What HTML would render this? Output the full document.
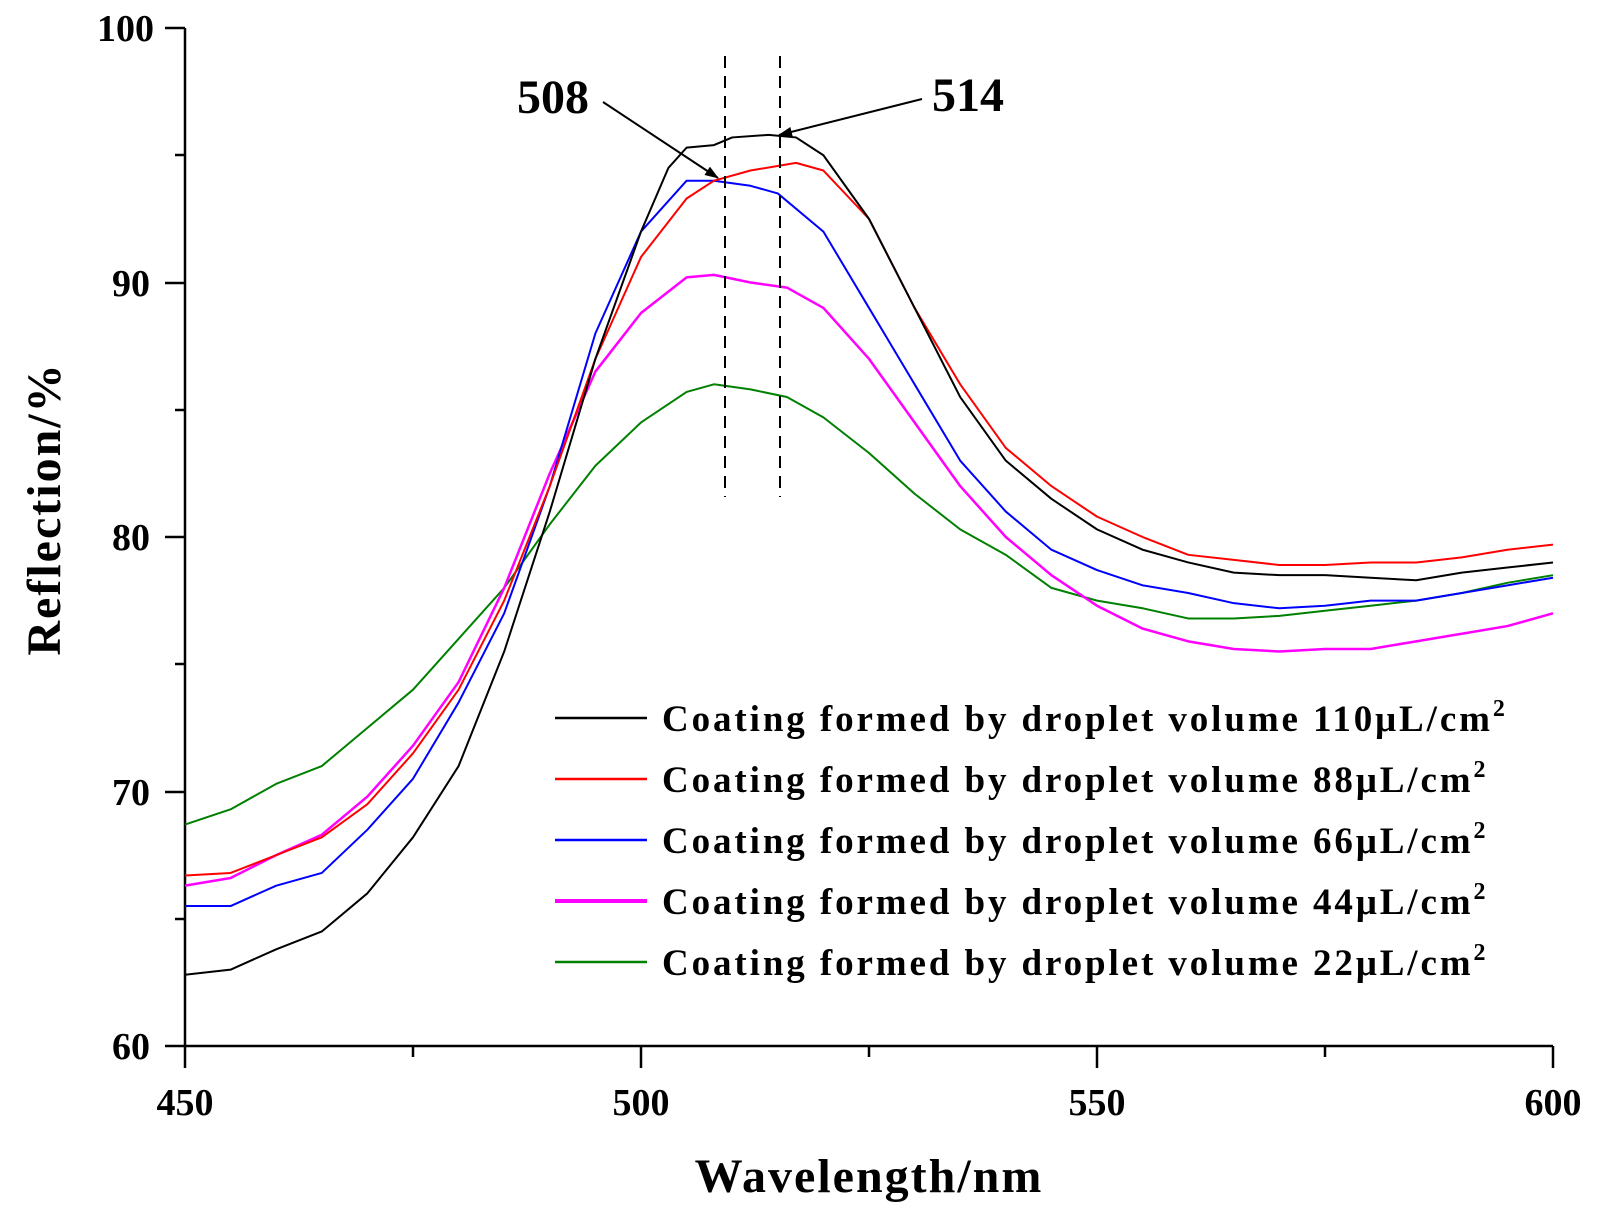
<!DOCTYPE html>
<html><head><meta charset="utf-8"><style>
html,body{margin:0;padding:0;background:#fff}
svg{display:block}
text{font-family:"Liberation Serif",serif;font-weight:bold;fill:#000}
</style></head><body>
<svg width="1597" height="1214" viewBox="0 0 1597 1214" xmlns="http://www.w3.org/2000/svg">
<defs><marker id="ah" markerWidth="14" markerHeight="10" refX="13" refY="5" orient="auto" markerUnits="userSpaceOnUse"><path d="M0,0 L14,5 L0,10 z" fill="#000"/></marker></defs>
<g stroke="#000" stroke-width="2.5" fill="none">
<line x1="185" y1="28" x2="185" y2="1047"/>
<line x1="184" y1="1046" x2="1553" y2="1046"/>
<line x1="165" y1="28" x2="185" y2="28"/>
<line x1="165" y1="283" x2="185" y2="283"/>
<line x1="165" y1="537" x2="185" y2="537"/>
<line x1="165" y1="792" x2="185" y2="792"/>
<line x1="165" y1="1046" x2="185" y2="1046"/>
<line x1="175" y1="155" x2="185" y2="155"/>
<line x1="175" y1="410" x2="185" y2="410"/>
<line x1="175" y1="664" x2="185" y2="664"/>
<line x1="175" y1="919" x2="185" y2="919"/>
<line x1="185" y1="1046" x2="185" y2="1068"/>
<line x1="641" y1="1046" x2="641" y2="1068"/>
<line x1="1097" y1="1046" x2="1097" y2="1068"/>
<line x1="1553" y1="1046" x2="1553" y2="1068"/>
<line x1="413" y1="1046" x2="413" y2="1057"/>
<line x1="869" y1="1046" x2="869" y2="1057"/>
<line x1="1325" y1="1046" x2="1325" y2="1057"/>
</g>
<g font-size="38" text-anchor="end">
<text x="154" y="41">100</text>
<text x="150" y="296">90</text>
<text x="150" y="550">80</text>
<text x="150" y="805">70</text>
<text x="150" y="1059">60</text>
</g>
<g font-size="38" text-anchor="middle">
<text x="185" y="1115">450</text>
<text x="641" y="1115">500</text>
<text x="1097" y="1115">550</text>
<text x="1553" y="1115">600</text>
</g>
<text x="869" y="1192" font-size="48" letter-spacing="2" text-anchor="middle">Wavelength/nm</text>
<text transform="translate(60,509) rotate(-90)" font-size="48" letter-spacing="2" text-anchor="middle">Reflection/%</text>

<g transform="matrix(9.12 0 0 -25.45 -3919 2573)" fill="none" stroke-width="2" stroke-linejoin="round">
<polyline vector-effect="non-scaling-stroke" stroke="#008000" points="450,68.7 455,69.3 460,70.3 465,71 470,72.5 475,74 480,76 485,78 490,80.5 495,82.8 500,84.5 505,85.7 508,86 512,85.8 516,85.5 520,84.7 525,83.3 530,81.7 535,80.3 540,79.3 545,78 550,77.5 555,77.2 560,76.8 565,76.8 570,76.9 575,77.1 580,77.3 585,77.5 590,77.8 595,78.2 600,78.5"/>
<polyline vector-effect="non-scaling-stroke" stroke="#ff00ff" stroke-width="2.5" points="450,66.3 455,66.6 460,67.5 465,68.3 470,69.8 475,71.8 480,74.3 485,78 490,82.5 495,86.5 500,88.8 505,90.2 508,90.3 512,90 516,89.8 520,89 525,87 530,84.5 535,82 540,80 545,78.5 550,77.3 555,76.4 560,75.9 565,75.6 570,75.5 575,75.6 580,75.6 585,75.9 590,76.2 595,76.5 600,77"/>
<polyline vector-effect="non-scaling-stroke" stroke="#0000ff" points="450,65.5 455,65.5 460,66.3 465,66.8 470,68.5 475,70.5 480,73.5 485,77 490,82 495,88 500,92 505,94 508,94 512,93.8 515,93.5 520,92 525,89 530,86 535,83 540,81 545,79.5 550,78.7 555,78.1 560,77.8 565,77.4 570,77.2 575,77.3 580,77.5 585,77.5 590,77.8 595,78.1 600,78.4"/>
<polyline vector-effect="non-scaling-stroke" stroke="#ff0000" points="450,66.7 455,66.8 460,67.5 465,68.2 470,69.5 475,71.5 480,74 485,77.5 490,82 495,87 500,91 505,93.3 508,94 512,94.4 517,94.7 520,94.4 525,92.5 530,89 535,86 540,83.5 545,82 550,80.8 555,80 560,79.3 565,79.1 570,78.9 575,78.9 580,79 585,79 590,79.2 595,79.5 600,79.7"/>
<polyline vector-effect="non-scaling-stroke" stroke="#000" points="450,62.8 455,63 460,63.8 465,64.5 470,66 475,68.2 480,71 485,75.5 490,81 495,87 500,92 503,94.5 505,95.3 508,95.4 510,95.7 514,95.8 517,95.7 520,95 525,92.5 530,89 535,85.5 540,83 545,81.5 550,80.3 555,79.5 560,79 565,78.6 570,78.5 575,78.5 580,78.4 585,78.3 590,78.6 595,78.8 600,79"/>
</g>

<g stroke="#000" stroke-width="2" stroke-dasharray="12,8">
<line x1="725" y1="56" x2="725" y2="497"/>
<line x1="780" y1="56" x2="780" y2="497"/>
</g>
<g stroke="#000" stroke-width="2">
<line x1="603" y1="102" x2="718" y2="178" marker-end="url(#ah)"/>
<line x1="922" y1="99" x2="779" y2="135" marker-end="url(#ah)"/>
</g>
<text x="553" y="113" font-size="48" text-anchor="middle">508</text>
<text x="968" y="111" font-size="48" text-anchor="middle">514</text>

<g stroke-width="2.5">
<line x1="555" y1="718" x2="647" y2="718" stroke="#000"/>
<line x1="555" y1="779" x2="647" y2="779" stroke="#ff0000"/>
<line x1="555" y1="840" x2="647" y2="840" stroke="#0000ff"/>
<line x1="555" y1="901" x2="647" y2="901" stroke="#ff00ff" stroke-width="4"/>
<line x1="555" y1="962" x2="647" y2="962" stroke="#008000"/>
</g>
<g font-size="37" letter-spacing="2.9">
<text x="662" y="731">Coating formed by droplet volume 110μL/cm<tspan dy="-15" font-size="24">2</tspan></text>
<text x="662" y="792">Coating formed by droplet volume 88μL/cm<tspan dy="-15" font-size="24">2</tspan></text>
<text x="662" y="853">Coating formed by droplet volume 66μL/cm<tspan dy="-15" font-size="24">2</tspan></text>
<text x="662" y="914">Coating formed by droplet volume 44μL/cm<tspan dy="-15" font-size="24">2</tspan></text>
<text x="662" y="975">Coating formed by droplet volume 22μL/cm<tspan dy="-15" font-size="24">2</tspan></text>
</g>
</svg>
</body></html>
